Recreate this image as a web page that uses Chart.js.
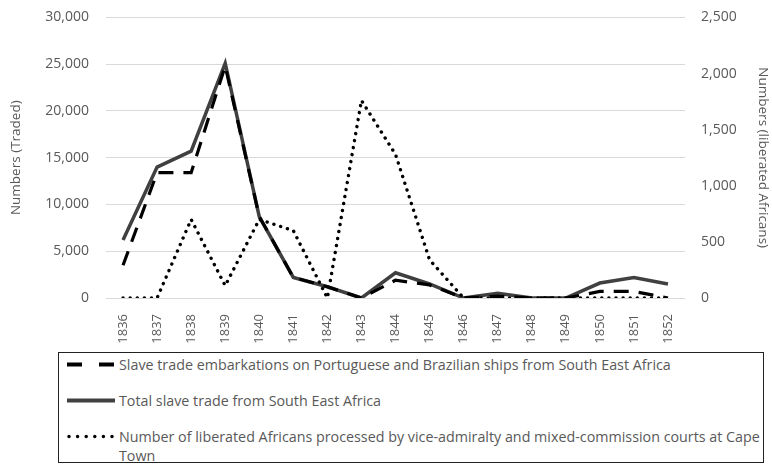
<!DOCTYPE html>
<html>
<head>
<meta charset="utf-8">
<script src="https://cdn.jsdelivr.net/npm/chart.js@4.4.1/dist/chart.umd.min.js"></script>
<style>
  body { margin: 0; background: #fff; }
  #wrap { position: relative; width: 772px; height: 464px; overflow: hidden; font-family: 'Open Sans', sans-serif; }
  #chart { position: absolute; left: 0; top: -8px; }
  #legend {
    position: absolute; left: 58px; top: 352px; width: 706px; height: 111px;
    border: 1.5px solid #222; box-sizing: border-box;
  }
  .row { position: absolute; left: 8px; right: 1px; display: flex; align-items: flex-start; }
  .row svg { flex: none; margin-right: 2px; }
  .row span { font-size: 14.3px; line-height: 19px; color: #595959; }
</style>
</head>
<body>
<div id="wrap">
  <canvas id="chart" width="772" height="358"></canvas>
  <div id="legend"></div>
</div>
<script>
const years = ['1836', '1837', '1838', '1839', '1840', '1841', '1842', '1843', '1844',
  '1845', '1846', '1847', '1848', '1849', '1850', '1851', '1852'];

// left axis: numbers traded
const embarkations = [3500, 13400, 13400, 24800, 8700, 2200, 1200, 0, 1900, 1400, 0, 200, 0, 0, 700, 700, 0];
const totalTrade = [6200, 14000, 15700, 25100, 8700, 2200, 1200, 0, 2700, 1500, 0, 500, 0, 0, 1600, 2200, 1500];

// right axis: liberated Africans
const liberated = [0, 0, 700, 110, 700, 600, 0, 1760, 1280, 340, 0, 0, 0, 0, 0, 0, 0];

const leftMax = 30000, leftStep = 5000;
const rightMax = 2500, rightStep = 500;

const labels = [
  'Slave trade embarkations on Portuguese and Brazilian ships from South East Africa',
  'Total slave trade from South East Africa',
  'Number of liberated Africans processed by vice-admiralty and mixed-commission courts at Cape Town'
];

const textColor = '#595959';
const fmt = v => Number(v).toLocaleString('en-US');

const chart = new Chart(document.getElementById('chart'), {
  type: 'line',
  data: {
    labels: years,
    datasets: [{
      label: labels[0],
      data: embarkations,
      yAxisID: 'y',
      borderColor: '#000',
      borderWidth: 3.2,
      borderDash: [15, 10],
      order: 1
    }, {
      label: labels[1],
      data: totalTrade,
      yAxisID: 'y',
      borderColor: '#404040',
      borderWidth: 3.5,
      order: 2
    }, {
      label: labels[2],
      data: liberated,
      yAxisID: 'y1',
      borderColor: '#000',
      borderWidth: 3.4,
      borderDash: [0.1, 7],
      borderCapStyle: 'round',
      order: 0
    }]
  },
  options: {
    responsive: false,
    animation: false,
    elements: { point: { radius: 0 }, line: { tension: 0 } },
    plugins: { legend: { display: false }, tooltip: { enabled: false } },
    scales: {
      x: {
        offset: true,
        grid: { display: false },
        border: { display: false },
        ticks: {
          autoSkip: false, minRotation: 90, maxRotation: 90, padding: 8,
          color: textColor, font: { family: 'Open Sans', size: 13 }
        },
        afterFit: s => { s.height = 52; }
      },
      y: {
        position: 'left',
        min: 0, max: leftMax,
        grid: { color: '#d9d9d9', drawTicks: false },
        border: { display: false },
        ticks: {
          stepSize: leftStep, padding: 17, callback: fmt,
          color: textColor, font: { family: 'Open Sans', size: 14 }
        },
        title: {
          display: true, text: 'Numbers (Traded)', color: textColor,
          font: { family: 'Open Sans', size: 13.5 }, padding: { top: 8, bottom: 0 }
        },
        afterFit: s => { s.width = 106; }
      },
      y1: {
        position: 'right',
        min: 0, max: rightMax,
        grid: { display: false },
        border: { display: false },
        ticks: {
          stepSize: rightStep, padding: 8, callback: fmt,
          color: textColor, font: { family: 'Open Sans', size: 14 }
        },
        title: {
          display: true, text: 'Numbers (liberated Africans)', color: textColor,
          font: { family: 'Open Sans', size: 13.5 }, padding: { top: 1, bottom: 0 }
        },
        afterFit: s => { s.width = 87; }
      }
    }
  }
});

// html legend so the long label can wrap like the original
const samples = [
  { color: '#000', width: 4, dash: '15 17', cap: 'butt' },
  { color: '#404040', width: 4, dash: '', cap: 'butt' },
  { color: '#000', width: 3.5, dash: '0 8.6', cap: 'round' }
];
const rowTops = [1.5, 38, 74];
const legend = document.getElementById('legend');
chart.data.datasets.forEach((ds, i) => {
  const s = samples[i];
  const row = document.createElement('div');
  row.className = 'row';
  row.style.top = rowTops[i] + 'px';
  row.innerHTML =
    '<svg width="50" height="19"><line x1="' + (s.cap === 'round' ? 2 : 0) + '" y1="9.5" x2="48" y2="9.5" stroke="' + s.color +
    '" stroke-width="' + s.width + '" stroke-dasharray="' + s.dash + '" stroke-linecap="' + s.cap + '"/></svg>' +
    '<span></span>';
  row.querySelector('span').textContent = ds.label;
  legend.appendChild(row);
});
</script>
</body>
</html>
